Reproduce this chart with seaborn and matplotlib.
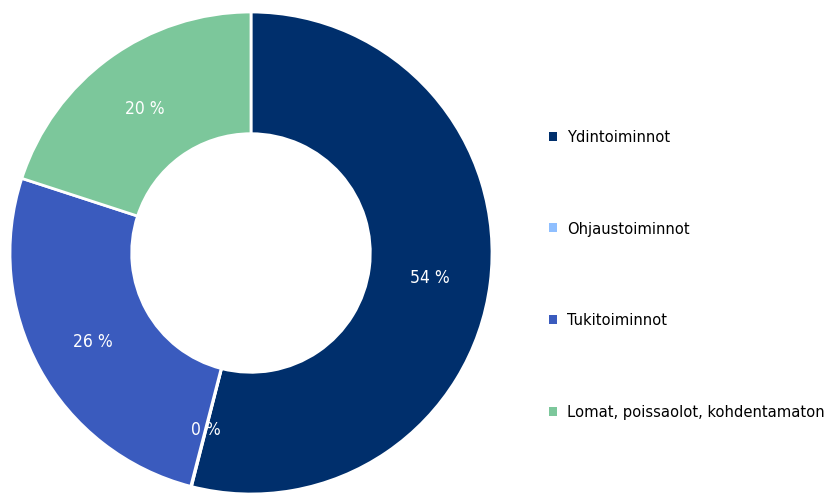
import matplotlib
matplotlib.use("Agg")
import numpy as np
import matplotlib.pyplot as plt
import seaborn as sns
from matplotlib.patches import Patch

categories = ["Ydintoiminnot", "Ohjaustoiminnot", "Tukitoiminnot", "Lomat, poissaolot, kohdentamaton"]
values = [54, 0.05, 26, 20]
labels = ["54 %", "0 %", "26 %", "20 %"]
colors = ["#002F6C", "#8FBFFF", "#3A5BBE", "#7CC79B"]

sns.set_theme(style="white")
plt.rcParams['font.family'] = ['DejaVu Sans']
plt.rcParams['font.stretch'] = 'condensed'
plt.rcParams['text.color'] = 'black'

fig = plt.figure(figsize=(8.27, 4.94), dpi=100)
ax = fig.add_axes([10/827, 0, 482/827, 482/494])
wedges, texts = ax.pie(values, colors=colors, startangle=90, counterclock=False,
                       radius=1.0, wedgeprops=dict(width=0.505, edgecolor="white", linewidth=2))
for w, lab in zip(wedges, labels):
    ang = np.deg2rad((w.theta1 + w.theta2) / 2)
    ax.text(0.75*np.cos(ang), 0.75*np.sin(ang) - 0.01, lab, ha="center", va="center",
            color="white", fontsize=12.5, fontstretch='condensed')
ax.set_xlim(-1, 1)
ax.set_ylim(-1, 1)
ax.set_aspect("equal")
ax.axis("off")

handles = [Patch(facecolor=c, edgecolor="none") for c in colors]
fig.legend(handles, categories, loc="center left", bbox_to_anchor=(549/827, 1-275/494),
           frameon=False, labelspacing=4.68, handlelength=0.48, handleheight=0.48,
           handletextpad=0.6, borderpad=0, borderaxespad=0,
           prop=dict(size=11.8, stretch='condensed'))
fig.savefig("out.png", dpi=100)
